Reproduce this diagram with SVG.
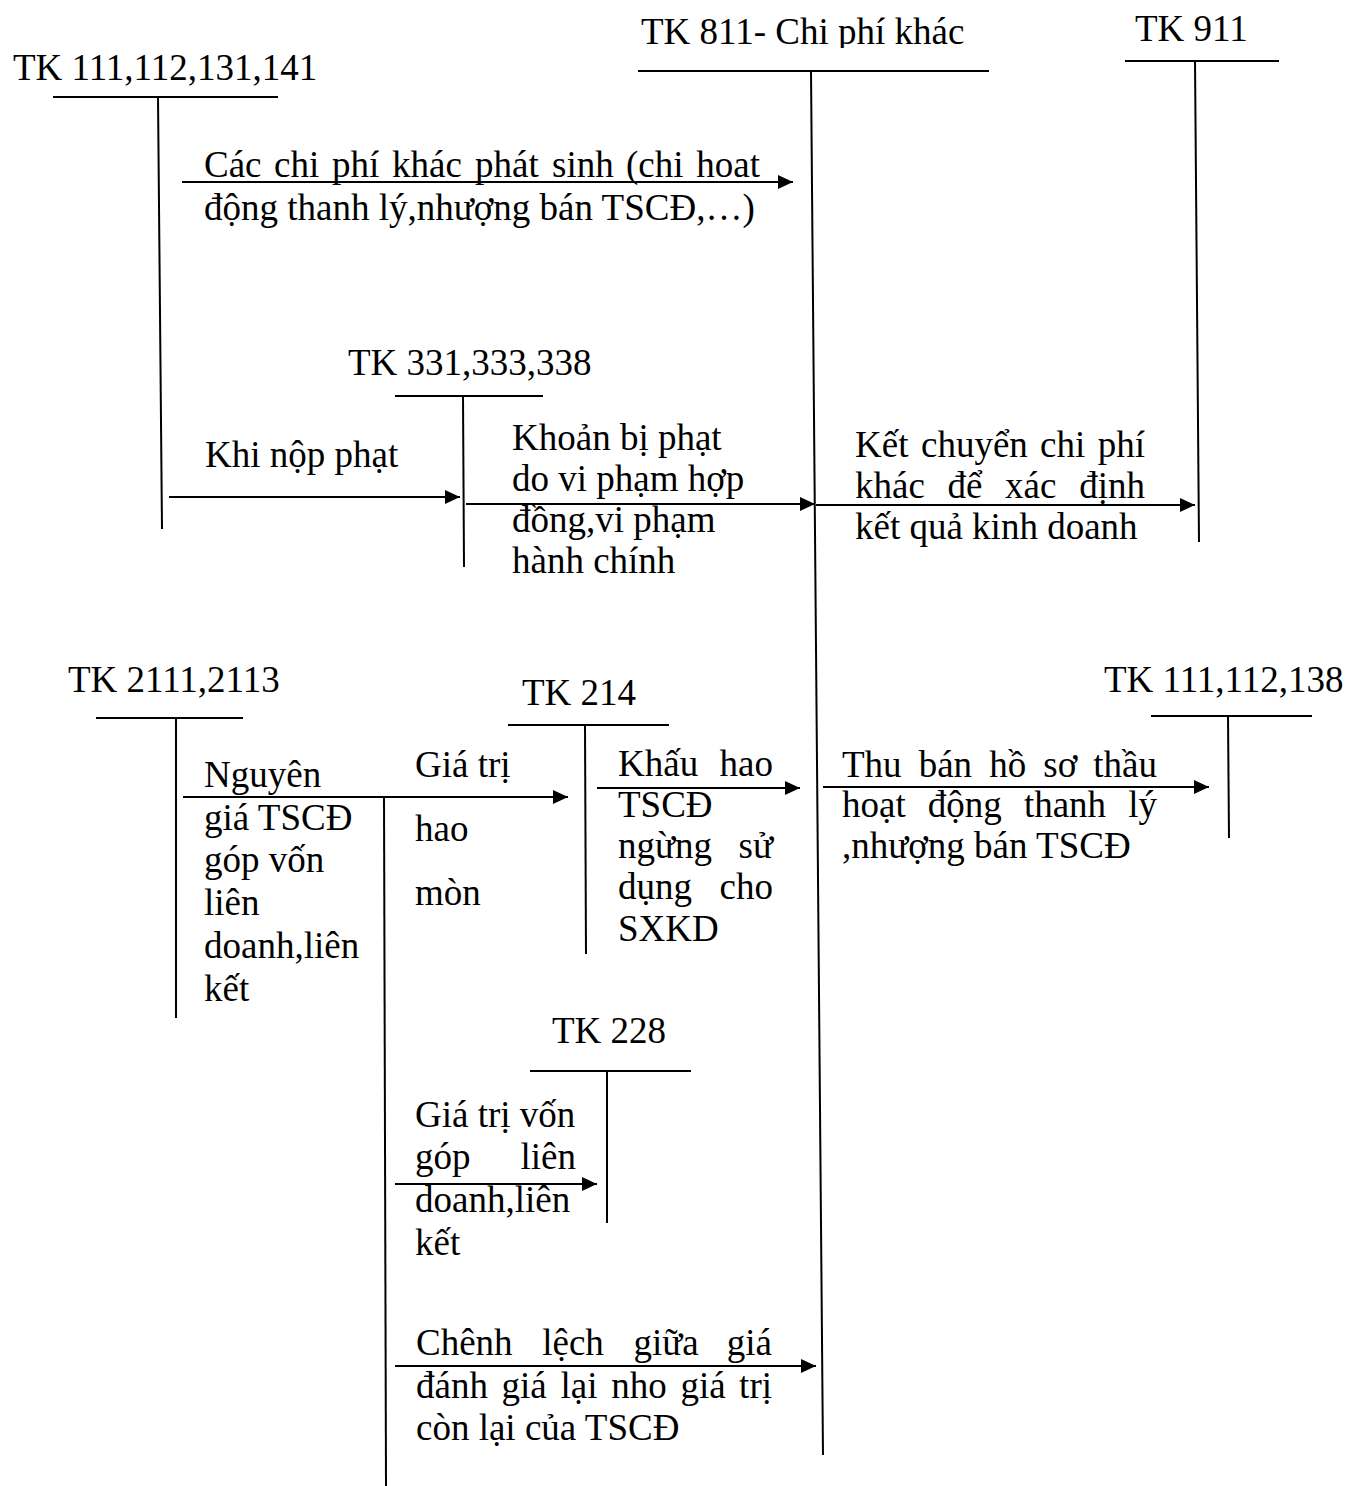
<svg xmlns="http://www.w3.org/2000/svg" width="1351" height="1486" viewBox="0 0 1351 1486">
  <style>
    text { font-family: "Liberation Serif", "Times New Roman", serif; font-size: 37px; fill: #000; }
    .ax { stroke: #000; stroke-width: 2; fill: none; }
    .arrow { stroke: #000; stroke-width: 2; fill: none; marker-end: url(#head); }
    .end { text-anchor: end; }
  </style>
  <defs>
    <marker id="head" markerUnits="userSpaceOnUse" markerWidth="16" markerHeight="14" refX="15" refY="7" orient="auto">
      <path d="M0,0 L15,7 L0,14 z" fill="#000"/>
    </marker>
    <clipPath id="cut811">
      <rect x="600" y="0" width="420" height="48"/>
    </clipPath>
  </defs>

  <rect width="1351" height="1486" fill="#fff"/>

  <!-- T-accounts -->
  <g id="tk111-112-131-141">
    <text x="13" y="80">TK 111,112,131,141</text>
    <line class="ax" x1="53" y1="97" x2="278" y2="97"/>
    <line class="ax" x1="158" y1="97" x2="162" y2="529"/>
  </g>

  <g id="tk811">
    <text x="641" y="43.5" clip-path="url(#cut811)">TK 811- Chi phí khác</text>
    <line class="ax" x1="638" y1="71" x2="989" y2="71"/>
    <line class="ax" x1="811" y1="71" x2="823" y2="1455"/>
  </g>

  <g id="tk911">
    <text x="1135" y="41">TK 911</text>
    <line class="ax" x1="1125" y1="61" x2="1279" y2="61"/>
    <line class="ax" x1="1195" y1="61" x2="1199" y2="542"/>
  </g>

  <g id="tk331-333-338">
    <text x="348" y="375">TK 331,333,338</text>
    <line class="ax" x1="395" y1="396" x2="543" y2="396"/>
    <line class="ax" x1="463" y1="396" x2="464" y2="567"/>
  </g>

  <g id="tk2111-2113">
    <text x="68" y="692">TK 2111,2113</text>
    <line class="ax" x1="96" y1="718" x2="243" y2="718"/>
    <line class="ax" x1="176" y1="718" x2="176" y2="1018"/>
  </g>

  <g id="tk214">
    <text x="522" y="705">TK 214</text>
    <line class="ax" x1="508" y1="725" x2="669" y2="725"/>
    <line class="ax" x1="585" y1="725" x2="586" y2="954"/>
  </g>

  <g id="tk111-112-138">
    <text x="1104" y="692">TK 111,112,138</text>
    <line class="ax" x1="1151" y1="716" x2="1312" y2="716"/>
    <line class="ax" x1="1228" y1="716" x2="1229" y2="838"/>
  </g>

  <g id="tk228">
    <text x="552" y="1043">TK 228</text>
    <line class="ax" x1="530" y1="1071" x2="691" y2="1071"/>
    <line class="ax" x1="607" y1="1071" x2="607" y2="1223"/>
  </g>

  <!-- Connectors -->
  <g id="connectors">
    <line class="arrow" x1="182" y1="182" x2="793" y2="182"/>
    <line class="arrow" x1="169" y1="497" x2="460" y2="497"/>
    <line class="arrow" x1="466" y1="504" x2="815" y2="504"/>
    <line class="arrow" x1="816" y1="505" x2="1195" y2="505"/>
    <line class="arrow" x1="183" y1="797" x2="568" y2="797"/>
    <line class="ax" x1="384" y1="797" x2="386" y2="1486"/>
    <line class="arrow" x1="597" y1="788" x2="800" y2="788"/>
    <line class="arrow" x1="823" y1="787" x2="1209" y2="787"/>
    <line class="arrow" x1="395" y1="1184" x2="597" y2="1184"/>
    <line class="arrow" x1="395" y1="1366" x2="816" y2="1366"/>
  </g>

  <!-- Entry labels -->
  <g id="labels">
    <g id="lbl-chi-phi-khac">
      <text y="177"><tspan x="204">Các</tspan><tspan x="274">chi</tspan><tspan x="332">phí</tspan><tspan x="392">khác</tspan><tspan x="475">phát</tspan><tspan x="552">sinh</tspan><tspan x="626">(chi</tspan></text>
      <text class="end" x="760" y="177">hoat</text>
      <text x="204" y="220">động thanh lý,nhượng bán TSCĐ,…)</text>
    </g>

    <g id="lbl-khi-nop-phat">
      <text x="205" y="467">Khi nộp phạt</text>
    </g>

    <g id="lbl-khoan-bi-phat">
      <text x="512" y="450">Khoản bị phạt</text>
      <text x="512" y="491">do vi phạm hợp</text>
      <text x="512" y="532">đồng,vi phạm</text>
      <text x="512" y="573">hành chính</text>
    </g>

    <g id="lbl-ket-chuyen">
      <text y="457"><tspan x="855">Kết</tspan><tspan x="921">chuyển</tspan><tspan x="1040">chi</tspan></text>
      <text class="end" x="1145" y="457">phí</text>
      <text y="498"><tspan x="855">khác</tspan><tspan x="947.6">để</tspan><tspan x="1005">xác</tspan></text>
      <text class="end" x="1145" y="498">định</text>
      <text x="855" y="539">kết quả kinh doanh</text>
    </g>

    <g id="lbl-nguyen-gia">
      <text x="204" y="787">Nguyên</text>
      <text x="204" y="830">giá TSCĐ</text>
      <text x="204" y="872">góp vốn</text>
      <text x="204" y="915">liên</text>
      <text x="204" y="958">doanh,liên</text>
      <text x="204" y="1001">kết</text>
    </g>

    <g id="lbl-gia-tri-hao-mon">
      <text x="415" y="777">Giá trị</text>
      <text x="415" y="841">hao</text>
      <text x="415" y="905">mòn</text>
    </g>

    <g id="lbl-khau-hao">
      <text x="618" y="776">Khấu</text>
      <text class="end" x="773" y="776">hao</text>
      <text x="618" y="817">TSCĐ</text>
      <text x="618" y="858">ngừng</text>
      <text class="end" x="773" y="858">sử</text>
      <text x="618" y="899">dụng</text>
      <text class="end" x="773" y="899">cho</text>
      <text x="618" y="941">SXKD</text>
    </g>

    <g id="lbl-thu-ban">
      <text y="777"><tspan x="842">Thu</tspan><tspan x="918.7">bán</tspan><tspan x="989.2">hồ</tspan><tspan x="1043.3">sơ</tspan></text>
      <text class="end" x="1157" y="777">thầu</text>
      <text y="817"><tspan x="842">hoạt</tspan><tspan x="927.8">động</tspan><tspan x="1023.9">thanh</tspan></text>
      <text class="end" x="1157" y="817">lý</text>
      <text x="842" y="858">,nhượng bán TSCĐ</text>
    </g>

    <g id="lbl-von-gop">
      <text x="415" y="1127">Giá trị vốn</text>
      <text x="415" y="1169">góp</text>
      <text class="end" x="576" y="1169">liên</text>
      <text x="415" y="1212">doanh,liên</text>
      <text x="415" y="1255">kết</text>
    </g>

    <g id="lbl-chenh-lech">
      <text y="1355"><tspan x="416">Chênh</tspan><tspan x="542.2">lệch</tspan><tspan x="633.4">giữa</tspan></text>
      <text class="end" x="772" y="1355">giá</text>
      <text y="1398"><tspan x="416">đánh</tspan><tspan x="501.6">giá</tspan><tspan x="560.5">lại</tspan><tspan x="611.2">nho</tspan><tspan x="680.4">giá</tspan></text>
      <text class="end" x="772" y="1398">trị</text>
      <text x="416" y="1440">còn lại của TSCĐ</text>
    </g>
  </g>
</svg>
